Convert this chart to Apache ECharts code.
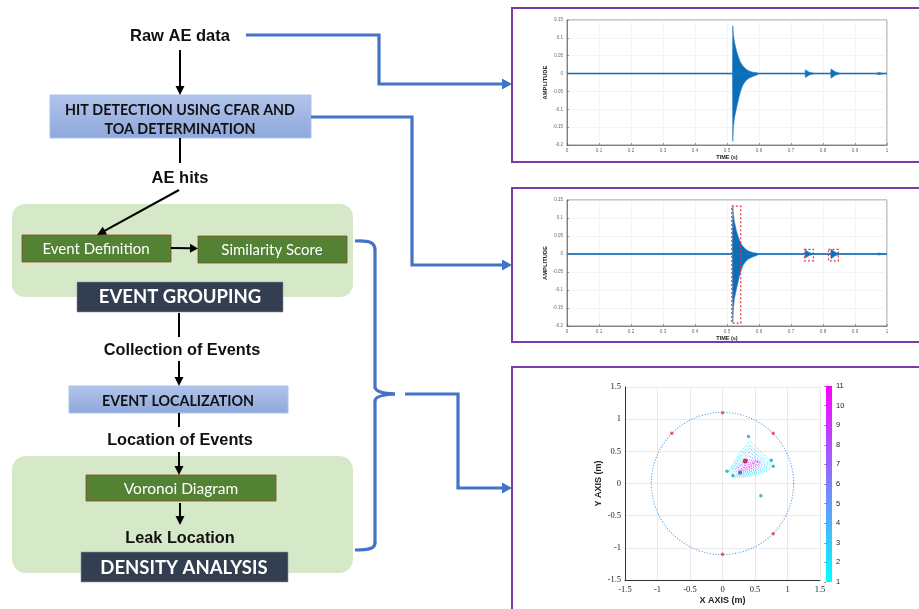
<!DOCTYPE html>
<html><head><meta charset="utf-8">
<script src="https://cdn.jsdelivr.net/npm/echarts@6/dist/echarts.min.js"></script>
<style>html,body{margin:0;padding:0;background:#fff}#c{width:919px;height:609px}</style>
</head><body><div id="c"></div>
<script>
// ---------- DATA ----------
// waveform envelopes: [time (s), amplitude]
const burstMainUpper = [[0.517,0],[0.518,0.134],[0.520,0.11],[0.523,0.09],[0.527,0.074],[0.531,0.06],[0.536,0.046],[0.541,0.034],[0.546,0.026],[0.551,0.02],[0.559,0.013],[0.567,0.008],[0.58,0.004],[0.593,0.002],[0.60,0]];
const burstMainLower = [[0.517,0],[0.518,-0.19],[0.520,-0.15],[0.523,-0.125],[0.527,-0.108],[0.531,-0.092],[0.536,-0.072],[0.541,-0.054],[0.546,-0.04],[0.551,-0.03],[0.559,-0.02],[0.567,-0.014],[0.58,-0.008],[0.593,-0.004],[0.60,0]];
const burst2Upper = [[0.744,0],[0.745,0.011],[0.75,0.007],[0.757,0.004],[0.765,0.002],[0.775,0]];
const burst2Lower = [[0.744,0],[0.745,-0.011],[0.75,-0.007],[0.757,-0.004],[0.765,-0.002],[0.775,0]];
const burst3Upper = [[0.824,0],[0.825,0.013],[0.83,0.009],[0.838,0.005],[0.848,0.002],[0.858,0]];
const burst3Lower = [[0.824,0],[0.825,-0.013],[0.83,-0.009],[0.838,-0.005],[0.848,-0.002],[0.858,0]];
const burst4Upper = [[0.964,0],[0.966,0.004],[0.975,0.003],[0.985,0.001],[0.99,0]];
const burst4Lower = [[0.964,0],[0.966,-0.004],[0.975,-0.003],[0.985,-0.001],[0.99,0]];
const baseline = [[0,0],[1,0]];
// detected hits (dashed boxes): [t0, a0, t1, a1]
const hitBoxes = [[0.515,0.133,0.543,-0.192],[0.742,0.013,0.770,-0.019],[0.817,0.013,0.848,-0.019]];

// localisation plot
const pipeCircle = [0, 0, 1.1];            // centre x, centre y, radius (m)
const sensors = [[0,1.1],[0,-1.1],[-0.78,0.78],[0.78,0.78],[0.78,-0.78]];
const events = [[0.40,0.73],[0.75,0.36],[0.78,0.27],[0.07,0.19],[0.16,0.12],[0.59,-0.19]];
const eventDark = [[0.27,0.17]];
const leakPoint = [[0.35,0.35]];
const contourLevels = [1, 2, 3, 4.5, 6, 7.5, 9, 10.5];
const contour1 = [[0.42,0.66],[0.74,0.35],[0.72,0.22],[0.55,0.14],[0.30,0.10],[0.19,0.10],[0.10,0.20],[0.25,0.45],[0.42,0.66]];
const contour2 = [[0.42,0.60],[0.69,0.34],[0.68,0.23],[0.53,0.16],[0.30,0.12],[0.20,0.12],[0.13,0.21],[0.27,0.43],[0.42,0.60]];
const contour3 = [[0.42,0.55],[0.65,0.33],[0.64,0.24],[0.52,0.18],[0.31,0.14],[0.22,0.14],[0.16,0.22],[0.28,0.41],[0.42,0.55]];
const contour4 = [[0.41,0.49],[0.61,0.33],[0.60,0.25],[0.50,0.20],[0.32,0.16],[0.24,0.16],[0.19,0.22],[0.30,0.38],[0.41,0.49]];
const contour5 = [[0.40,0.43],[0.58,0.33],[0.57,0.27],[0.48,0.22],[0.33,0.18],[0.26,0.18],[0.22,0.23],[0.31,0.34],[0.40,0.43]];
const contour6 = [[0.38,0.37],[0.56,0.34],[0.55,0.29],[0.46,0.24],[0.33,0.20],[0.27,0.20],[0.24,0.24],[0.31,0.31],[0.38,0.37]];
const contour7 = [[0.36,0.32],[0.54,0.34],[0.53,0.30],[0.44,0.26],[0.33,0.22],[0.28,0.22],[0.26,0.25],[0.31,0.28],[0.36,0.32]];
const contour8 = [[0.34,0.28],[0.50,0.32],[0.50,0.30],[0.42,0.27],[0.32,0.24],[0.29,0.24],[0.30,0.26],[0.34,0.28]];
const contours = [contour1,contour2,contour3,contour4,contour5,contour6,contour7,contour8];
const colorbarRange = [1, 11];

// ---------- helpers ----------
const upperData = [[0,0]].concat(burstMainUpper, burst2Upper, burst3Upper, burst4Upper, [[1,0]]);
const lowerData = [[0,0]].concat(burstMainLower, burst2Lower, burst3Lower, burst4Lower, [[1,0]]);
function cool(v){const t=(v-colorbarRange[0])/(colorbarRange[1]-colorbarRange[0]);
  const r=Math.round(255*t), g=Math.round(255*(1-t)); return 'rgb('+r+','+g+',255)';}

const G = [];
const BLUE = '#4472c4';
function rect(x,y,w,h,fill,stroke,r,lw){G.push({type:'rect',shape:{x:x,y:y,width:w,height:h,r:r||0},style:{fill:fill,stroke:stroke||null,lineWidth:lw||1},z:1});}
function txt(x,y,s,size,weight,color,family){G.push({type:'text',x:x,y:y,z:5,style:{text:s,fontSize:size,fontWeight:weight,fill:color,fontFamily:family||'Liberation Sans',align:'center',verticalAlign:'middle'}});}
function head(x1,y1,x2,y2,color,hl,hw){const dx=x2-x1,dy=y2-y1,L=Math.hypot(dx,dy),ux=dx/L,uy=dy/L;
  const bx=x2-ux*hl,by=y2-uy*hl;
  G.push({type:'polygon',z:4,shape:{points:[[x2,y2],[bx-uy*hw,by+ux*hw],[bx+uy*hw,by-ux*hw]]},style:{fill:color}});
  return [bx+ux*1,by+uy*1];}
function arrow(x1,y1,x2,y2,color,w,hl,hw){const e=head(x1,y1,x2,y2,color,hl,hw);
  G.push({type:'line',z:3,shape:{x1:x1,y1:y1,x2:e[0],y2:e[1]},style:{stroke:color,lineWidth:w}});}
function seg(x1,y1,x2,y2,color,w){G.push({type:'line',z:3,shape:{x1:x1,y1:y1,x2:x2,y2:y2},style:{stroke:color,lineWidth:w}});}
function curve(x1,y1,x2,y2,c1x,c1y,c2x,c2y,color,w){const sh={x1:x1,y1:y1,x2:x2,y2:y2,cpx1:c1x,cpy1:c1y};
  if(c2x!==undefined){sh.cpx2=c2x;sh.cpy2=c2y;}
  G.push({type:'bezierCurve',z:3,shape:sh,style:{stroke:color,lineWidth:w,fill:null}});}
function poly(pts,color,w,withHead){let p=pts.slice();
  if(withHead){const a=p[p.length-2],b=p[p.length-1];const e=head(a[0],a[1],b[0],b[1],color,10,5.5);p[p.length-1]=e;}
  G.push({type:'polyline',z:3,shape:{points:p},style:{stroke:color,lineWidth:w,fill:null,lineJoin:'miter'}});}
function grad(top,bot){return new echarts.graphic.LinearGradient(0,0,0,1,[{offset:0,color:top},{offset:1,color:bot}]);}

// ---------- flowchart ----------
rect(12,204,341,93,'#d5e8c8',null,13);
rect(12,456,341,117,'#d5e8c8',null,14);
rect(50,95,261,43,grad('#b1c4ea','#8ea8dc'),'#a9c2ef',0,1);
rect(69,386,219,27,grad('#b1c4ea','#8ea8dc'),'#a9c2ef',0,1);
rect(22,235,149,27,'#548235','#8a4a1c',0,0.8);
rect(198,236,149,27,'#548235','#8a4a1c',0,0.8);
rect(86,475,190,26,'#548235','#8a4a1c',0,0.8);
rect(77,282,206,30,'#333f50','#8896aa',0,0.6);
rect(81,552,207,30,'#333f50','#8896aa',0,0.6);

txt(180,36,'Raw AE data',16.5,'bold','#111');
txt(180,110,'HIT DETECTION USING CFAR AND',14.3,'bold','#111','Lato');
txt(180,129,'TOA DETERMINATION',14.3,'bold','#111','Lato');
txt(180,178,'AE hits',16.5,'bold','#111');
txt(96,249,'Event Definition',15,'normal','#fff','Lato');
txt(272,250,'Similarity Score',15,'normal','#fff','Lato');
txt(180,297,'EVENT GROUPING',18.5,'bold','#fff','Lato');
txt(182,351,'Collection of Events',16.3,'bold','#111');
txt(178,401,'EVENT LOCALIZATION',14.3,'bold','#111','Lato');
txt(180,441,'Location of Events',16.3,'bold','#111');
txt(181,489,'Voronoi Diagram',15.5,'normal','#fff','Lato');
txt(180,539,'Leak Location',16.3,'bold','#111');
txt(184,568,'DENSITY ANALYSIS',18.5,'bold','#fff','Lato');

arrow(180,50,180,95,'#000',2,9,4.5);
seg(180,138,180,163,'#000',2);
arrow(179,190,97,235,'#000',2,9,4.5);
arrow(171,248,198,248.5,'#000',2,8,4.5);
seg(179,313,179,337,'#000',2);
arrow(179,361,179,386,'#000',2,9,4.5);
seg(179,413,179,427,'#000',2);
arrow(179,452,179,475,'#000',2,9,4.5);
arrow(180,503,180,525,'#000',2,9,4.5);

// blue connectors
poly([[246,35],[379,35],[379,84],[512,84]],BLUE,3.2,true);
poly([[311,117],[412,117],[412,265],[512,265]],BLUE,3.2,true);
curve(355,241,375,250,370,240,375,243,BLUE,3.2);
seg(375,249,375,388,BLUE,3.2);
curve(375,387,395,394,375,393,undefined,undefined,BLUE,3.2);
curve(395,394,375,401,375,395,undefined,undefined,BLUE,3.2);
seg(375,400,375,544,BLUE,3.2);
curve(375,543,355,550,375,548,370,550,BLUE,3.2);
poly([[405,394],[458,394],[458,488],[512,488]],BLUE,3.2,true);

// panel frames
G.push({type:'rect',z:6,shape:{x:512,y:8,width:430,height:154},style:{fill:null,stroke:'#7a3aa8',lineWidth:2}});
G.push({type:'rect',z:6,shape:{x:512,y:188,width:430,height:154},style:{fill:null,stroke:'#7a3aa8',lineWidth:2}});
G.push({type:'rect',z:6,shape:{x:512,y:367,width:430,height:260},style:{fill:null,stroke:'#7a3aa8',lineWidth:2}});

// ---------- charts ----------
function waveAxes(gi){
  return {
    x:{type:'value',gridIndex:gi,min:0,max:1,interval:0.1,
      axisLine:{onZero:false,lineStyle:{color:'#444',width:0.6}},axisTick:{inside:true,length:2,lineStyle:{color:'#444',width:0.5}},
      axisLabel:{fontSize:4.5,color:'#666',margin:3},splitLine:{show:true,lineStyle:{color:'#ececec',width:0.6}},
      name:'TIME (s)',nameLocation:'middle',nameGap:9,nameTextStyle:{fontSize:5.5,fontWeight:'bold',color:'#222',fontFamily:'Liberation Sans'}},
    y:{type:'value',gridIndex:gi,min:-0.2,max:0.15,interval:0.05,
      axisLine:{show:true,onZero:false,lineStyle:{color:'#444',width:0.6}},axisTick:{show:true,inside:true,length:2,lineStyle:{color:'#444',width:0.5}},
      axisLabel:{fontSize:4.5,color:'#666',margin:4},splitLine:{show:true,lineStyle:{color:'#ececec',width:0.6}},
      name:'AMPLITUDE',nameLocation:'middle',nameGap:16,nameTextStyle:{fontSize:5.8,fontWeight:'bold',color:'#222',fontFamily:'Liberation Sans'}}
  };
}
const w0=waveAxes(0), w1=waveAxes(1);
function waveSeries(gi){
  return [
    {type:'line',xAxisIndex:gi,yAxisIndex:gi,data:upperData,showSymbol:false,silent:true,
      lineStyle:{color:'#2a7fc4',width:0.6},areaStyle:{color:'#0b6fb8',opacity:1},z:3},
    {type:'line',xAxisIndex:gi,yAxisIndex:gi,data:lowerData,showSymbol:false,silent:true,
      lineStyle:{color:'#2a7fc4',width:0.6},areaStyle:{color:'#0b6fb8',opacity:1},z:3},
    {type:'line',xAxisIndex:gi,yAxisIndex:gi,data:baseline,showSymbol:false,silent:true,
      lineStyle:{color:'#1672bb',width:1.5},z:4}
  ];
}
const series = [].concat(waveSeries(0), waveSeries(1));
series.push({type:'line',xAxisIndex:1,yAxisIndex:1,data:[],silent:true,
  markArea:{silent:true,z:10,itemStyle:{color:'rgba(0,0,0,0)',borderColor:'#e8343a',borderWidth:1.2,borderType:[2,2]},
    data:hitBoxes.map(b=>[{coord:[b[0],b[1]]},{coord:[b[2],b[3]]}])}});

// circle (pipe)
series.push({type:'custom',xAxisIndex:2,yAxisIndex:2,data:[pipeCircle],silent:true,z:2,
  renderItem:function(params,api){const c=api.coord([api.value(0),api.value(1)]);const s=api.size([api.value(2),api.value(2)]);
    return {type:'circle',shape:{cx:c[0],cy:c[1],r:(s[0]+s[1])/2},style:{fill:'transparent',stroke:'#62a9e6',lineWidth:1.1,lineDash:[1.2,1.6]}};}});
contours.forEach(function(c,i){
  series.push({type:'line',xAxisIndex:2,yAxisIndex:2,data:c,showSymbol:false,silent:true,z:3,
    lineStyle:{color:cool(contourLevels[i]),width:0.9,type:[1,1]}});
});
series.push({type:'scatter',xAxisIndex:2,yAxisIndex:2,data:sensors,symbolSize:3.5,itemStyle:{color:'#ee3b3b'},z:5,silent:true});
series.push({type:'scatter',xAxisIndex:2,yAxisIndex:2,data:events,symbolSize:3.5,itemStyle:{color:'#1aa6a6'},z:5,silent:true});
series.push({type:'scatter',xAxisIndex:2,yAxisIndex:2,data:eventDark,symbolSize:4,itemStyle:{color:'#3a4ea0'},z:5,silent:true});
series.push({type:'scatter',xAxisIndex:2,yAxisIndex:2,data:leakPoint,symbolSize:5,itemStyle:{color:'#b3122e'},z:6,silent:true});

const serif = 'Liberation Serif';
const option = {
  animation:false,
  backgroundColor:'#fff',
  grid:[
    {left:567,top:20,width:320,height:125,show:true,borderColor:'#444',borderWidth:0.6,backgroundColor:'transparent'},
    {left:567,top:200,width:320,height:126,show:true,borderColor:'#444',borderWidth:0.6,backgroundColor:'transparent'},
    {left:625,top:387,width:195,height:193},
    {left:826,top:386,width:6,height:196,show:true,borderWidth:0,
      backgroundColor:new echarts.graphic.LinearGradient(0,0,0,1,[{offset:0,color:'#ff00ff'},{offset:1,color:'#00ffff'}])}
  ],
  xAxis:[w0.x,w1.x,
    {type:'value',gridIndex:2,min:-1.5,max:1.5,interval:0.5,
      axisLine:{onZero:false,lineStyle:{color:'#333',width:1}},axisTick:{show:false},
      axisLabel:{fontSize:8.5,color:'#222',fontFamily:serif,margin:5},splitLine:{show:true,lineStyle:{color:'#e9e9e9',width:1}},
      name:'X AXIS (m)',nameLocation:'middle',nameGap:16,nameTextStyle:{fontSize:9,fontWeight:'bold',color:'#222',fontFamily:'Liberation Sans'}},
    {type:'value',gridIndex:3,min:0,max:1,show:false}
  ],
  yAxis:[w0.y,w1.y,
    {type:'value',gridIndex:2,min:-1.5,max:1.5,interval:0.5,
      axisLine:{show:true,onZero:false,lineStyle:{color:'#333',width:1}},axisTick:{show:false},
      axisLabel:{fontSize:8.5,color:'#222',fontFamily:serif,margin:4},splitLine:{show:true,lineStyle:{color:'#e9e9e9',width:1}},
      name:'Y AXIS (m)',nameLocation:'middle',nameGap:22,nameTextStyle:{fontSize:9,fontWeight:'bold',color:'#222',fontFamily:'Liberation Sans'}},
    {type:'value',gridIndex:3,min:colorbarRange[0],max:colorbarRange[1],interval:1,position:'right',
      axisLine:{show:false},axisTick:{show:true,inside:true,length:1.5,lineStyle:{color:'#777'}},
      axisLabel:{fontSize:7.5,color:'#222',margin:4},splitLine:{show:false}}
  ],
  series:series,
  graphic:G
};
const chart = echarts.init(document.getElementById('c'),null,{renderer:'canvas'});
chart.setOption(option);
</script></body></html>
